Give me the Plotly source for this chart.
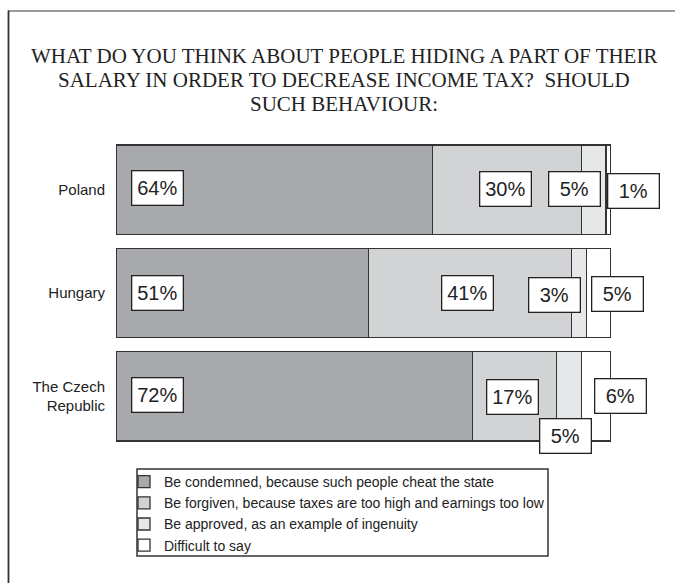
import plotly.graph_objects as go

# ---- data ----
countries = ["Poland", "Hungary", "The Czech<br>Republic"]
series_names = [
    "Be condemned, because such people cheat the state",
    "Be forgiven, because taxes are too high and earnings too low",
    "Be approved, as an example of ingenuity",
    "Difficult to say",
]
condemned = [64, 51, 72]
forgiven = [30, 41, 17]
approved = [5, 3, 5]
difficult = [1, 5, 6]
title_lines = [
    "WHAT DO YOU THINK ABOUT PEOPLE HIDING A PART OF THEIR",
    "SALARY IN ORDER TO DECREASE INCOME TAX?  SHOULD",
    "SUCH BEHAVIOUR:",
]

# ---- styling ----
W, H = 675, 583
PX0, PX1, PY0, PY1 = 116, 611, 138, 448  # plot area in pixels
colors = ["#a7a9ac", "#d1d3d4", "#e6e7e8", "#ffffff"]
edge = "#333333"
ink = "#222222"

# label anchor positions (in % units), separate from data
first_label_x = 8.3
third_label_off = [-1.3, -3.5, 1.9]     # relative to start of 3rd segment
fourth_label_x = [104.6, 101.4, 102.0]
label_yshift = [[2, 0.5, 0.5, -1.5], [0, 0, -1.5, -0.5], [1.5, -1, -40, 0]]
title_line_y = [56, 80, 104]


def px_x(px):
    return (px - PX0) / (PX1 - PX0)


def px_y(py):
    return (PY1 - py) / (PY1 - PY0)


series = [condemned, forgiven, approved, difficult]

fig = go.Figure()
for name, vals, col in zip(series_names, series, colors):
    fig.add_trace(go.Bar(
        y=countries, x=vals, name=name, orientation="h",
        marker=dict(color=col, line=dict(color=edge, width=1.3)),
        hoverinfo="skip",
    ))

annotations = []
for i, c in enumerate(countries):
    s1 = condemned[i]
    s2 = s1 + forgiven[i]
    xs = [
        first_label_x,
        (s1 + s2) / 2 - 0.4,
        s2 + third_label_off[i],
        fourth_label_x[i],
    ]
    for j, vals in enumerate(series):
        annotations.append(dict(
            x=xs[j] / 100.0, y=c, xref="paper", yref="y",
            xanchor="center", yanchor="middle",
            text=f"{vals[i]}%", showarrow=False,
            font=dict(family="Arial, Liberation Sans, sans-serif", size=20, color=ink),
            bgcolor="white", bordercolor=ink, borderwidth=1.3, borderpad=1,
            width=48, height=31, align="center", valign="middle",
            yshift=label_yshift[i][j],
        ))

for line, ly in zip(title_lines, title_line_y):
    annotations.append(dict(
        x=px_x(344), y=px_y(ly), xref="paper", yref="paper",
        xanchor="center", yanchor="middle", showarrow=False,
        text=line,
        font=dict(family="Liberation Serif, Times New Roman, serif", size=21, color=ink),
    ))

shapes = [
    # outer frame (top and left)
    dict(type="line", xref="paper", yref="paper",
         x0=px_x(8), x1=px_x(W), y0=px_y(11), y1=px_y(11),
         line=dict(color="#7a7a7a", width=1.6)),
    dict(type="line", xref="paper", yref="paper",
         x0=px_x(8.5), x1=px_x(8.5), y0=px_y(10.5), y1=px_y(H),
         line=dict(color="#333333", width=1.8)),
    # legend box
    dict(type="rect", xref="paper", yref="paper",
         x0=px_x(137), x1=px_x(548), y0=px_y(469), y1=px_y(556),
         line=dict(color="#333333", width=1.5), fillcolor="rgba(0,0,0,0)"),
]

fig.update_layout(
    width=W, height=H, autosize=False,
    margin=dict(l=PX0, r=W - PX1, t=PY0, b=H - PY1, pad=0),
    paper_bgcolor="white", plot_bgcolor="white",
    barmode="stack", bargap=0.138,
    showlegend=True,
    xaxis=dict(range=[0, 100], visible=False, fixedrange=True),
    yaxis=dict(
        categoryorder="array", categoryarray=countries, autorange="reversed",
        showline=False, showgrid=False, zeroline=False, ticks="",
        ticklabelstandoff=10, fixedrange=True,
        tickfont=dict(family="Arial, Liberation Sans, sans-serif", size=15, color=ink),
    ),
    legend=dict(
        x=px_x(124), y=px_y(466), xanchor="left", yanchor="top",
        xref="paper", yref="paper",
        orientation="v", traceorder="normal",
        bgcolor="rgba(0,0,0,0)", borderwidth=0,
        font=dict(family="Arial, Liberation Sans, sans-serif", size=14, color=ink),
        itemclick=False, itemdoubleclick=False,
    ),
    annotations=annotations,
    shapes=shapes,
)

fig.write_html(
    "out.html",
    config={"displayModeBar": False},
    post_script=(
        "document.body.style.margin='0px';"
        "document.body.style.overflow='hidden';"
        "document.documentElement.style.overflow='hidden';"
    ),
)
